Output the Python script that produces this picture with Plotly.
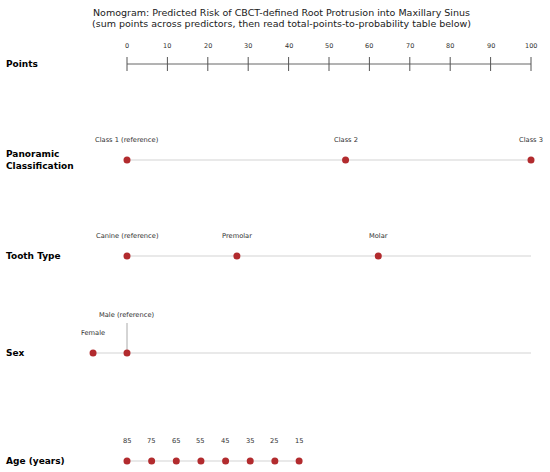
import plotly.graph_objects as go

# nomogram data (points scale 0-100)
point_ticks = [0, 10, 20, 30, 40, 50, 60, 70, 80, 90, 100]

panoramic_labels = ['Class 1 (reference)', 'Class 2', 'Class 3']
panoramic_points = [0, 54.1, 100]

tooth_labels = ['Canine (reference)', 'Premolar', 'Molar']
tooth_points = [0, 27.2, 62.2]

sex_labels = ['Female', 'Male (reference)']
sex_points = [-8.4, 0]

age_labels = ['85', '75', '65', '55', '45', '35', '25', '15']
age_points = [0, 6.1, 12.2, 18.3, 24.4, 30.5, 36.6, 42.6]

title_lines = ['Nomogram: Predicted Risk of CBCT-defined Root Protrusion into Maxillary Sinus',
               '(sum points across predictors, then read total-points-to-probability table below)']

# layout: vertical position of each row (pixels from top)
ROW_Y = {'points': 64, 'panoramic': 160, 'tooth': 256, 'sex': 353, 'age': 461}
LABEL_GAP = 20
W, H = 550, 472
PX_PER_PT = 4.04
X0 = -127 / PX_PER_PT

MARKER = '#b22b2e'
TRACK = '#d3d3d3'
TEXT = '#303030'
FONT = 'DejaVu Sans'

fig = go.Figure()


def add_track(x_start, x_end, y):
    fig.add_trace(go.Scatter(x=[x_start, x_end], y=[y, y], mode='lines',
                             line=dict(color=TRACK, width=1), hoverinfo='skip'))


def add_row(points, labels, y, track_end=100, label_offsets=None):
    add_track(min(points), track_end, y)
    fig.add_trace(go.Scatter(x=points, y=[y] * len(points), mode='markers',
                             marker=dict(color=MARKER, size=7), hoverinfo='skip'))
    for i, (p, lab) in enumerate(zip(points, labels)):
        off = LABEL_GAP if label_offsets is None else label_offsets[i]
        fig.add_annotation(x=p, y=y - off, text=lab, showarrow=False,
                           font=dict(size=6.7, color=TEXT, family=FONT))


# Points axis
fig.add_trace(go.Scatter(x=[0, 100], y=[ROW_Y['points']] * 2, mode='lines',
                         line=dict(color='#666666', width=1), hoverinfo='skip'))
fig.add_trace(go.Scatter(x=point_ticks, y=[ROW_Y['points']] * len(point_ticks), mode='markers',
                         marker=dict(symbol='line-ns-open', size=10, color='#555555',
                                     line=dict(color='#555555', width=1)),
                         hoverinfo='skip'))
for t in point_ticks:
    fig.add_annotation(x=t, y=ROW_Y['points'] - 18, text=str(t), showarrow=False,
                       font=dict(size=6.5, color=TEXT, family=FONT))

add_row(panoramic_points, panoramic_labels, ROW_Y['panoramic'])
add_row(tooth_points, tooth_labels, ROW_Y['tooth'])

# Sex row with leader line for reference label
fig.add_trace(go.Scatter(x=[sex_points[1], sex_points[1]],
                         y=[ROW_Y['sex'] - 30, ROW_Y['sex']], mode='lines',
                         line=dict(color='#aaaaaa', width=1), hoverinfo='skip'))
add_row(sex_points, sex_labels, ROW_Y['sex'], label_offsets=[20, 38])

add_row(age_points, age_labels, ROW_Y['age'], track_end=max(age_points))

# row titles
row_titles = {'points': 'Points', 'panoramic': 'Panoramic<br>Classification',
              'tooth': 'Tooth Type', 'sex': 'Sex', 'age': 'Age (years)'}
for key, txt in row_titles.items():
    fig.add_annotation(xref='paper', x=4 / W, y=ROW_Y[key], text='<b>' + txt + '</b>',
                       showarrow=False, xanchor='left', align='left',
                       font=dict(size=9, color='black', family=FONT))

# two-line title
for i, line in enumerate(title_lines):
    fig.add_annotation(xref='paper', x=281 / W, y=12.7 + 10.6 * i, text=line,
                       showarrow=False, xanchor='center',
                       font=dict(size=9.5, color='#1a1a1a', family=FONT))

fig.update_layout(
    width=W, height=H,
    margin=dict(l=0, r=0, t=0, b=0),
    paper_bgcolor='white', plot_bgcolor='white',
    showlegend=False,
    xaxis=dict(range=[X0, X0 + W / PX_PER_PT], visible=False, fixedrange=True),
    yaxis=dict(range=[H, 0], visible=False, fixedrange=True),
)

fig.write_html('out.html', config={'displayModeBar': False},
               post_script="document.body.style.margin='0';")
